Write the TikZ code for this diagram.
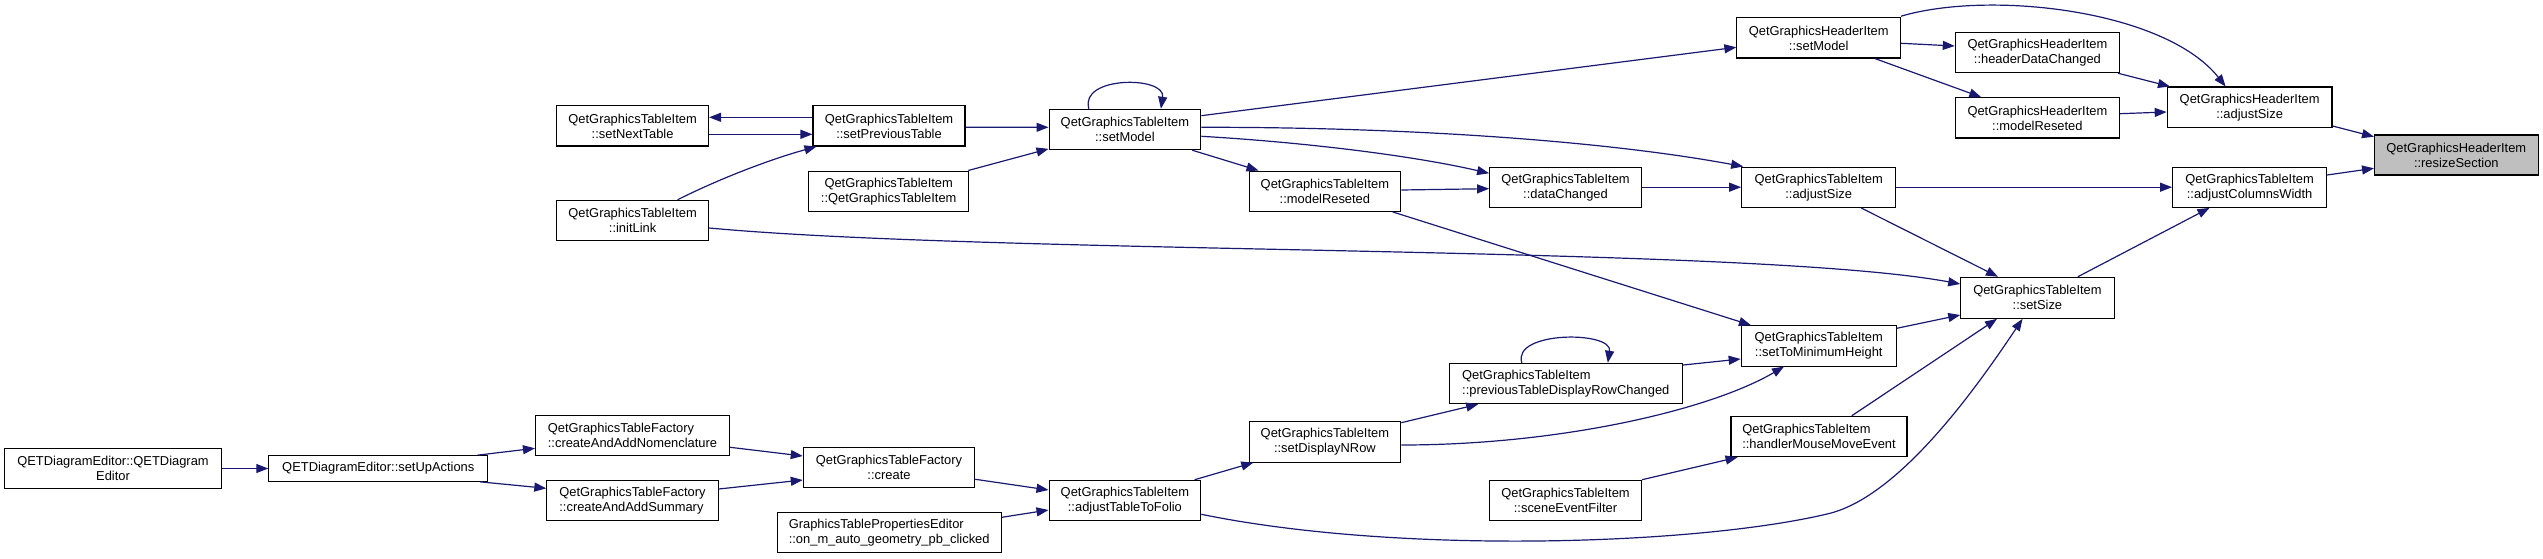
\documentclass[tikz,border=0pt]{standalone}
\usepackage{fontspec}
\setmainfont{Liberation Sans}
\usetikzlibrary{arrows.meta,calc}
\definecolor{edgeblue}{HTML}{191970}
\definecolor{selgrey}{HTML}{BFBFBF}
\tikzset{
  box/.style={draw=black, line width=1.1pt, fill=white, inner sep=0pt,
    font=\fontsize{12.9}{15}\selectfont, align=center, text=black},
  lbox/.style={box, align=left},
  edge/.style={draw=edgeblue, line width=1.2pt, -{Triangle[length=12pt,width=9pt]}},
}
\begin{document}
\begin{tikzpicture}[x=1pt,y=-1pt]
\useasboundingbox (0,0) rectangle (2543,559);
% nodes
\node[box, minimum width=217pt, minimum height=40pt] (qde) at (113,468.5) {QETDiagramEditor::QETDiagram\\Editor};
\node[box, minimum width=219pt, minimum height=25.6pt] (sua) at (378.3,468.5) {QETDiagramEditor::setUpActions};
\node[lbox, minimum width=194pt, minimum height=40.3pt] (caan) at (632.5,435.2) {QetGraphicsTableFactory\\::createAndAddNomenclature};
\node[lbox, minimum width=171.3pt, minimum height=40.4pt] (caas) at (632.5,500.5) {QetGraphicsTableFactory\\::createAndAddSummary};
\node[box, minimum width=171.4pt, minimum height=40.3pt] (crt) at (889,467.2) {QetGraphicsTableFactory\\::create};
\node[lbox, minimum width=224pt, minimum height=40.4pt] (onm) at (889.2,532.5) {GraphicsTablePropertiesEditor\\::on\_m\_auto\_geometry\_pb\_clicked};
\node[box, minimum width=151.8pt, minimum height=40.3pt] (snt) at (632.6,125.9) {QetGraphicsTableItem\\::setNextTable};
\node[box, minimum width=151.8pt, minimum height=40.4pt] (il) at (632.6,220.5) {QetGraphicsTableItem\\::initLink};
\node[box, minimum width=152pt, minimum height=40.3pt] (spt) at (889,125.9) {QetGraphicsTableItem\\::setPreviousTable};
\node[box, minimum width=160pt, minimum height=40.3pt] (ctor) at (888.7,191.2) {QetGraphicsTableItem\\::QetGraphicsTableItem};
\node[box, minimum width=151.7pt, minimum height=40.4pt] (tsm) at (1124.9,129.5) {QetGraphicsTableItem\\::setModel};
\node[box, minimum width=151.7pt, minimum height=40.3pt] (tmr) at (1324.9,191.2) {QetGraphicsTableItem\\::modelReseted};
\node[box, minimum width=151.7pt, minimum height=40.3pt] (dc) at (1565.5,187.2) {QetGraphicsTableItem\\::dataChanged};
\node[box, minimum width=151.7pt, minimum height=40.4pt] (atf) at (1124.9,500.5) {QetGraphicsTableItem\\::adjustTableToFolio};
\node[box, minimum width=151.7pt, minimum height=40.3pt] (sdn) at (1324.9,441.9) {QetGraphicsTableItem\\::setDisplayNRow};
\node[lbox, minimum width=233.5pt, minimum height=40.4pt] (ptd) at (1565.8,383.5) {QetGraphicsTableItem\\::previousTableDisplayRowChanged};
\node[box, minimum width=151.7pt, minimum height=40.4pt] (sef) at (1565.5,500.5) {QetGraphicsTableItem\\::sceneEventFilter};
\node[box, minimum width=163.6pt, minimum height=40.3pt] (hsm) at (1818.7,37.9) {QetGraphicsHeaderItem\\::setModel};
\node[box, minimum width=164.2pt, minimum height=40.4pt] (hdc) at (2037.4,52.5) {QetGraphicsHeaderItem\\::headerDataChanged};
\node[box, minimum width=164.2pt, minimum height=40.3pt] (hmr) at (2037.4,117.9) {QetGraphicsHeaderItem\\::modelReseted};
\node[box, minimum width=164.8pt, minimum height=40.3pt] (has) at (2249.6,107.2) {QetGraphicsHeaderItem\\::adjustSize};
\node[box, fill=selgrey, minimum width=163.5pt, minimum height=40pt] (rs) at (2456.3,155) {QetGraphicsHeaderItem\\::resizeSection};
\node[box, minimum width=154pt, minimum height=40.3pt] (tas) at (1818.7,187.2) {QetGraphicsTableItem\\::adjustSize};
\node[box, minimum width=154pt, minimum height=40.3pt] (acw) at (2249.6,187.2) {QetGraphicsTableItem\\::adjustColumnsWidth};
\node[box, minimum width=153.3pt, minimum height=41pt] (ss) at (2037.4,297.8) {QetGraphicsTableItem\\::setSize};
\node[box, minimum width=155pt, minimum height=40.3pt] (stmh) at (1818.7,345.9) {QetGraphicsTableItem\\::setToMinimumHeight};
\node[lbox, minimum width=176pt, minimum height=40.4pt] (hmme) at (1819,436.5) {QetGraphicsTableItem\\::handlerMouseMoveEvent};
% edges
\draw[edge] ($(spt.west)+(0,-8.6)$) -- ($(snt.east)+(0,-8.6)$);
\draw[edge] ($(snt.east)+(0,8.4)$) -- ($(spt.west)+(0,8.4)$);
\draw[edge] ($(il.north)+(45,0)$) .. controls (725,176) and (775,158) .. ($(spt.south west)+(4,0)$);
\draw[edge] ($(spt.east)+(0,1.4)$) -- ($(tsm.west)+(0,-2.2)$);
\draw[edge] ($(ctor.north east)+(-1,0)$) -- ($(tsm.south west)+(0,-1.4)$);
\draw[edge] ($(tsm.north)+(-36,0)$) .. controls ($(tsm.north)+(-46,-33)$) and ($(tsm.north)+(41,-33)$) .. ($(tsm.north)+(36,0)$);
\draw[edge] ($(tsm.south east)+(-9,0)$) -- ($(tmr.north west)+(10,0)$);
\draw[edge] ($(tsm.east)+(0,6.8)$) .. controls (1300,142) and (1410,155) .. ($(dc.west)+(0,-13.9)$);
\draw[edge] ($(tmr.east)+(0,-1.2)$) -- ($(dc.west)+(0,1.5)$);
\draw[edge] ($(tsm.east)+(0,-13.8)$) -- ($(hsm.west)+(0,9.4)$);
\draw[edge] ($(tsm.east)+(0,-2.2)$) .. controls (1400,127) and (1600,140) .. ($(tas.north west)+(2,0)$);
\draw[edge] (dc.east) -- (tas.west);
\draw[edge] ($(hsm.east)+(0,5.4)$) -- ($(hdc.west)+(0,-6.5)$);
\draw[edge] ($(hsm.south)+(56.3,0)$) -- ($(hmr.north west)+(26.5,0)$);
\draw[edge] ($(hsm.north east)+(0,-1)$) .. controls (1990,-10) and (2165,10) .. ($(has.north)+(-24,0)$);
\draw[edge] ($(hdc.south east)+(-2,0)$) -- ($(has.north west)+(3.3,0)$);
\draw[edge] ($(hmr.east)+(0,-4.2)$) -- ($(has.west)+(0,4.8)$);
\draw[edge] ($(has.east)+(0,18.8)$) -- ($(rs.west)+(0,-18.3)$);
\draw[edge] ($(acw.east)+(0,-12.2)$) -- ($(rs.west)+(0,13.3)$);
\draw[edge] (tas.east) -- (acw.west);
\draw[edge] ($(tas.south)+(42.3,0)$) -- ($(ss.north)+(-39.4,0)$);
\draw[edge] ($(ss.north)+(40.4,0)$) -- ($(acw.south)+(-40.1,0)$);
\draw[edge] ($(il.east)+(0,7.5)$) .. controls (1000,255) and (1750,245) .. ($(ss.west)+(0,-13.8)$);
\draw[edge] ($(tmr.south east)+(-8.7,0)$) -- ($(stmh.north west)+(10.3,0)$);
\draw[edge] ($(stmh.east)+(0,-17.6)$) -- ($(ss.west)+(0,17.2)$);
\draw[edge] ($(ptd.east)+(0,-18.5)$) -- ($(stmh.west)+(0,13.1)$);
\draw[edge] ($(ptd.north)+(-44,0)$) .. controls ($(ptd.north)+(-54,-32)$) and ($(ptd.north)+(47,-32)$) .. ($(ptd.north)+(42,0)$);
\draw[edge] ($(sdn.north east)+(0,1.5)$) -- ($(ptd.south west)+(29.7,0)$);
\draw[edge] ($(sdn.east)+(0,3.1)$) .. controls (1560,445) and (1710,410) .. ($(stmh.south)+(-34.7,0)$);
\draw[edge] ($(atf.north east)+(-6.7,0)$) -- ($(sdn.south west)+(4.8,0)$);
\draw[edge] ($(atf.east)+(0,13.8)$) .. controls (1400,555) and (1700,545) .. (1830,513.3) .. controls (1900,495) and (1975,390) .. ($(ss.south)+(-14.9,0)$);
\draw[edge] ($(hmme.north)+(32.8,0)$) -- ($(ss.south)+(-40.4,0)$);
\draw[edge] (sef.north east) -- ($(hmme.south west)+(7.1,0)$);
\draw[edge] ($(crt.east)+(0,12.1)$) -- ($(atf.west)+(0,-10.5)$);
\draw[edge] ($(onm.east)+(0,-15.2)$) -- ($(atf.west)+(0,9.5)$);
\draw[edge] ($(caan.east)+(0,12.1)$) -- ($(crt.west)+(0,-11.2)$);
\draw[edge] ($(caas.east)+(0,-11.5)$) -- ($(crt.west)+(0,12.8)$);
\draw[edge] ($(sua.north east)+(-10.8,0)$) -- ($(caan.west)+(0,13.1)$);
\draw[edge] ($(sua.south east)+(-8.1,0)$) -- ($(caas.west)+(0,-12.2)$);
\draw[edge] (qde.east) -- (sua.west);
\end{tikzpicture}
\end{document}
